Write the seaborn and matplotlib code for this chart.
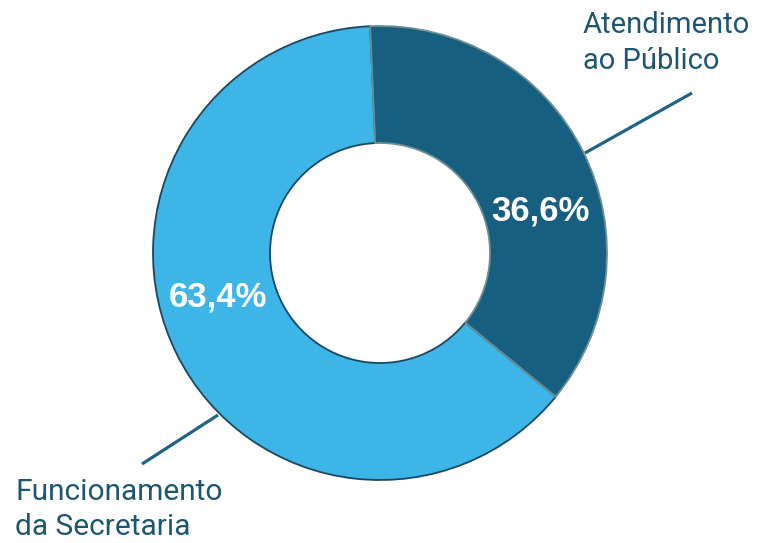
import numpy as np
import matplotlib
matplotlib.use("Agg")
import matplotlib.pyplot as plt
import seaborn as sns

# data
categories = ["Atendimento\nao Público", "Funcionamento\nda Secretaria"]
shares = [36.6, 63.4]
pct_labels = ["36,6%", "63,4%"]

sns.set_theme(style="white")
plt.rcParams['font.family'] = ['Roboto', 'DejaVu Sans']

colors = ["#175F80", "#3DB5E6"]
edges = ["#6F8F92", "#1A4862"]
text_color = "#1D5670"

fig = plt.figure(figsize=(7.66, 5.43), dpi=100)
ax = fig.add_axes([0, 0, 1, 1])

cx, cy, r_out, r_in = 380, 290, 227, 110
wedges, _ = ax.pie(
    shares,
    colors=colors,
    startangle=92.5,
    counterclock=False,
    center=(cx, cy),
    radius=r_out,
    wedgeprops=dict(width=r_out - r_in, linewidth=1.3),
    frame=True,
)
for w, ec in zip(wedges, edges):
    w.set_edgecolor(ec)
wedges[0].set_zorder(3)
ax.set_xlim(0, 766)
ax.set_ylim(0, 543)
ax.set_aspect("equal")
ax.axis("off")

# percentage labels inside the ring
pct_pos = [(540, 332), (218, 246)]
for (x, y), lab in zip(pct_pos, pct_labels):
    ax.text(x, y, lab, ha="center", va="center", color="white",
            fontsize=25, fontweight="bold", family=["Liberation Sans", "DejaVu Sans"],
            zorder=5)

# category labels with leader lines
ax.plot([585, 692], [390, 450], color="#1F6485", lw=2.3, solid_capstyle="butt")
ax.plot([218, 142], [128, 79], color="#1F6485", lw=2.3, solid_capstyle="butt")
ax.text(583, 532, categories[0], ha="left", va="top", color=text_color,
        fontsize=21, linespacing=1.38)
ax.text(15, 65, categories[1], ha="left", va="top", color=text_color,
        fontsize=21.5, linespacing=1.3)

fig.savefig("out.png", dpi=100, facecolor="white")
